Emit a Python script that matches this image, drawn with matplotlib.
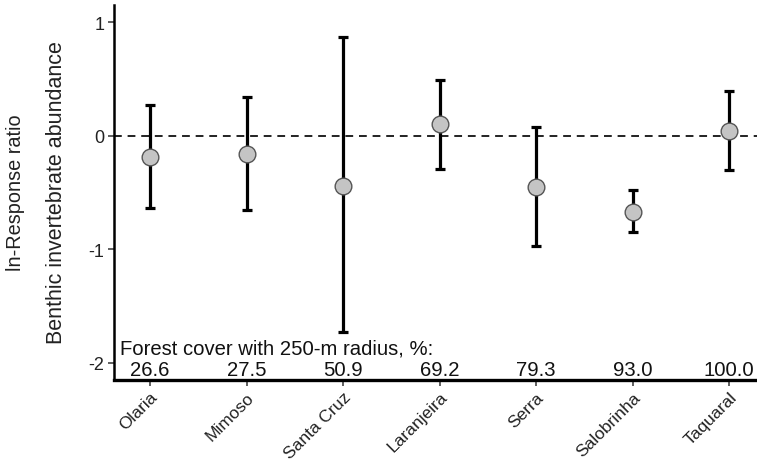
import matplotlib
matplotlib.use('Agg')
import matplotlib.pyplot as plt

# streams ordered by forest cover
sites = ['Olaria', 'Mimoso', 'Santa Cruz', 'Laranjeira', 'Serra', 'Salobrinha', 'Taquaral']
forest_cover = ['26.6', '27.5', '50.9', '69.2', '79.3', '93.0', '100.0']
lnrr = [-0.19, -0.16, -0.44, 0.10, -0.45, -0.67, 0.04]
ci_low = [-0.64, -0.65, -1.73, -0.29, -0.97, -0.85, -0.30]
ci_high = [0.27, 0.34, 0.87, 0.49, 0.08, -0.48, 0.39]

plt.rcParams['font.family'] = ['Liberation Sans', 'DejaVu Sans']

fig = plt.figure(figsize=(7.57, 4.64), dpi=100)
ax = fig.add_axes([0.1506, 0.179, 0.8494, 0.808])

x = list(range(1, len(sites) + 1))
err_lo = [m - lo for m, lo in zip(lnrr, ci_low)]
err_hi = [hi - m for m, hi in zip(lnrr, ci_high)]

ax.axhline(0, color='#222222', linestyle=(0, (4, 3)), linewidth=1.4, zorder=1)
ax.errorbar(x, lnrr, yerr=[err_lo, err_hi], fmt='none', ecolor='black',
            elinewidth=2.3, capsize=3.8, capthick=2.3, zorder=2)
ax.plot(x, lnrr, 'o', markersize=12, markerfacecolor='#c4c4c4',
        markeredgecolor='#555555', markeredgewidth=1.0, zorder=3)

# forest cover annotation
ax.text(0.69, -1.865, 'Forest cover with 250-m radius, %:', fontsize=14.6,
        ha='left', va='center', color='#111111')
for xi, fc in zip(x, forest_cover):
    ax.text(xi, -2.06, fc, fontsize=14.6, ha='center', va='center', color='#111111')

ax.set_xlim(0.627, 7.29)
ax.set_ylim(-2.15, 1.15)
ax.set_yticks([-2, -1, 0, 1])
ax.set_yticklabels(['-2', '-1', '0', '1'])
ax.set_xticks(x)
ax.set_xticklabels(sites, rotation=45, ha='right', rotation_mode='anchor')
ax.tick_params(axis='both', labelsize=12.5, width=1.2, length=4, color='#444444',
               labelcolor='#222222')
ax.tick_params(axis='x', pad=2.5)
ax.tick_params(axis='y', labelsize=13, pad=3)

for s in ['top', 'right']:
    ax.spines[s].set_visible(False)
ax.spines['left'].set_linewidth(1.8)
ax.spines['bottom'].set_linewidth(2.4)

fig.text(0.021, 0.584, 'ln-Response ratio', rotation=90, ha='center', va='center',
         fontsize=14.3, color='#222222')
fig.text(0.074, 0.584, 'Benthic invertebrate abundance', rotation=90, ha='center',
         va='center', fontsize=15.5, color='#222222')

plt.savefig('out.png', dpi=100)
